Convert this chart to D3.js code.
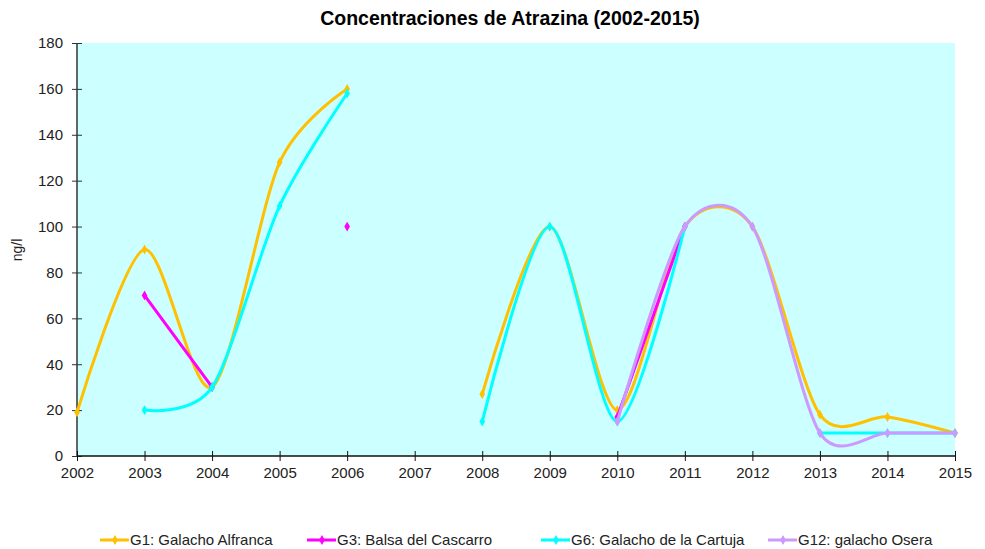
<!DOCTYPE html>
<html>
<head>
<meta charset="utf-8">
<script src="https://cdn.jsdelivr.net/npm/d3@7"></script>
<style>
  body { margin: 0; background: #fff; }
  svg { display: block; font-family: "Liberation Sans", Arial, sans-serif; }
</style>
</head>
<body>
<svg id="chart" width="985" height="549"></svg>
<script>
// Atrazine concentrations (ng/l) per sampling point and year; null = no sample
const years = ["2002","2003","2004","2005","2006","2007","2008","2009","2010","2011","2012","2013","2014","2015"];
const g1  = [19, 90, 30, 128, 160, null, 27, 100, 20, 100, 100, 18, 17, 10];
const g3  = [null, 70, 30, null, 100, null, null, null, 17, 100, null, null, null, null];
const g6  = [null, 20, 30, 109, 158, null, 15, 100, 15, 100, null, 10, 10, 10];
const g12 = [null, null, null, null, null, null, null, null, 15, 100, 100, 10, 10, 10];
const yTicks = [0, 20, 40, 60, 80, 100, 120, 140, 160, 180];

const seriesNames = ["G1: Galacho Alfranca", "G3: Balsa del Cascarro", "G6: Galacho de la Cartuja", "G12: galacho Osera"];
const seriesColors = ["#ffc000", "#ff00ff", "#00ffff", "#cc99ff"];
const seriesValues = [g1, g3, g6, g12];

const svg = d3.select("#chart");
const plotLeft = 77, plotRight = 955, plotTop = 43, plotBottom = 456;

const x = d3.scalePoint().domain(years).range([plotLeft, plotRight]).padding(0);
const y = d3.scaleLinear().domain([0, 180]).range([plotBottom, plotTop]);

// plot area
svg.append("rect")
  .attr("x", plotLeft).attr("y", plotTop)
  .attr("width", plotRight - plotLeft).attr("height", plotBottom - plotTop)
  .attr("fill", "#ccffff");

// title
svg.append("text")
  .attr("x", 510).attr("y", 25)
  .attr("text-anchor", "middle")
  .attr("font-size", 19.5).attr("font-weight", "bold")
  .attr("fill", "#000")
  .text("Concentraciones de Atrazina (2002-2015)");

// y axis
const yAxis = svg.append("g")
  .attr("transform", `translate(${plotLeft},0)`)
  .call(d3.axisLeft(y).tickValues(yTicks).tickSize(5).tickPadding(9));
yAxis.selectAll(".tick line").attr("x1", 5).attr("x2", -5).attr("stroke", "#333");
yAxis.select(".domain").attr("stroke", "#333").attr("stroke-width", 1.5).attr("d", `M0,${plotBottom}V${plotTop}`);
yAxis.selectAll("text").attr("font-size", 15).attr("fill", "#222").attr("font-family", "Liberation Sans, Arial, sans-serif");

// x axis
const xAxis = svg.append("g")
  .attr("transform", `translate(0,${plotBottom})`)
  .call(d3.axisBottom(x).tickSize(5).tickPadding(6));
xAxis.selectAll(".tick line").attr("y1", -5).attr("y2", 5).attr("stroke", "#111");
xAxis.select(".domain").attr("stroke", "#111").attr("stroke-width", 1.5).attr("d", `M${plotLeft},0H${plotRight}`);
xAxis.selectAll("text").attr("font-size", 15).attr("fill", "#222").attr("font-family", "Liberation Sans, Arial, sans-serif");

// y axis title
svg.append("text")
  .attr("transform", "translate(22,250) rotate(-90)")
  .attr("text-anchor", "middle")
  .attr("font-size", 14).attr("fill", "#222")
  .text("ng/l");

// smoothed lines
const line = d3.line()
  .defined(d => d.v != null)
  .x(d => x(d.year))
  .y(d => y(d.v))
  .curve(d3.curveCardinal.tension(0.15));

const diamond = d3.symbol().type(d3.symbolDiamond).size(28);

seriesValues.forEach((vals, i) => {
  const pts = years.map((yr, j) => ({ year: yr, v: vals[j] }));
  const g = svg.append("g");
  g.append("path")
    .attr("d", line(pts))
    .attr("fill", "none")
    .attr("stroke", seriesColors[i])
    .attr("stroke-width", 3)
    .attr("stroke-linejoin", "round");
  g.selectAll("path.m")
    .data(pts.filter(d => d.v != null))
    .join("path")
    .attr("class", "m")
    .attr("d", diamond)
    .attr("transform", d => `translate(${x(d.year)},${y(d.v)})`)
    .attr("fill", seriesColors[i]);
});

// legend
const legendX = [100, 307, 541, 768];
const legendY = 540;
seriesNames.forEach((name, i) => {
  const g = svg.append("g").attr("transform", `translate(${legendX[i]},${legendY})`);
  g.append("line").attr("x1", 0).attr("x2", 29).attr("y1", 0).attr("y2", 0)
    .attr("stroke", seriesColors[i]).attr("stroke-width", 3);
  g.append("path").attr("d", diamond).attr("transform", "translate(15,0)").attr("fill", seriesColors[i]);
  g.append("text").attr("x", 30).attr("y", 5)
    .attr("font-size", 15).attr("fill", "#222")
    .text(name);
});
</script>
</body>
</html>
